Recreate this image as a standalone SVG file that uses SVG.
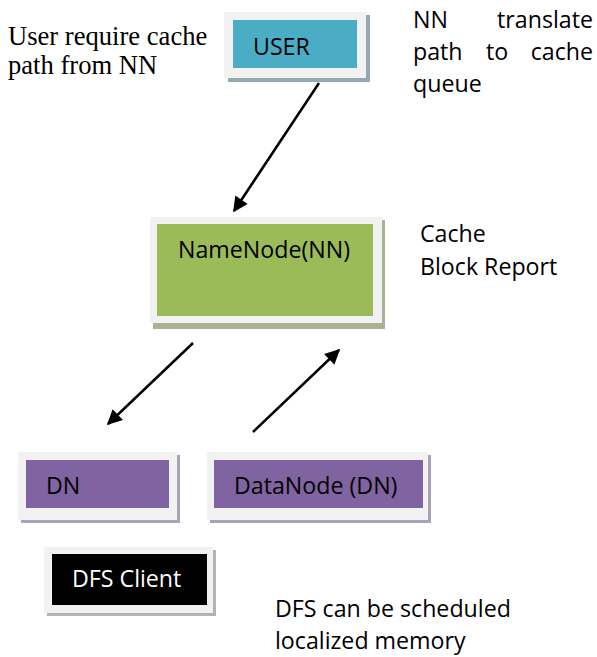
<svg xmlns="http://www.w3.org/2000/svg" width="597" height="657" viewBox="0 0 597 657">
<style>
.frame{fill:#f2f2f2}
.lbl{font-family:"Open Sans","Liberation Sans",sans-serif;font-size:23.2px;fill:#000}
.serif{font-family:"Liberation Serif","Times New Roman",serif;font-size:26.6px;fill:#000}
.conn{stroke:#000;stroke-width:2.5;fill:none;marker-end:url(#ah)}
</style>
<defs>
<marker id="ah" viewBox="0 0 10 10" refX="9" refY="5" markerWidth="6.5" markerHeight="6" orient="auto" markerUnits="strokeWidth">
<path d="M0,0 L10,5 L0,10 z" fill="#000"/>
</marker>
</defs>
<rect width="597" height="657" fill="#fff"/>

<g id="user">
<rect x="228" y="15" width="142" height="67" fill="#93aab3"/>
<rect class="frame" x="224" y="12" width="142" height="66"/>
<rect x="233" y="20" width="124" height="48" fill="#4bacc6"/>
<text class="lbl" x="253" y="55">USER</text>
</g>

<g id="namenode">
<rect x="153" y="220" width="232" height="109" fill="#a9b393"/>
<rect class="frame" x="150" y="217" width="232" height="106"/>
<rect x="157" y="224" width="216" height="92" fill="#9bbb59"/>
<text class="lbl" x="178" y="258">NameNode(NN)</text>
</g>

<g id="dn">
<rect x="21" y="455" width="159" height="68" fill="#aaa2b6"/>
<rect class="frame" x="18" y="452" width="159" height="68"/>
<rect x="26" y="460" width="143" height="48" fill="#8064a2"/>
<text class="lbl" x="46" y="494">DN</text>
</g>

<g id="datanode">
<rect x="210" y="455" width="221" height="68" fill="#aaa2b6"/>
<rect class="frame" x="207" y="452" width="221" height="68"/>
<rect x="214" y="460" width="209" height="48" fill="#8064a2"/>
<text class="lbl" x="234" y="494">DataNode (DN)</text>
</g>

<g id="dfsclient">
<rect x="47" y="550" width="169" height="66" fill="#b3b3b3"/>
<rect class="frame" x="44" y="547" width="169" height="66"/>
<rect x="52" y="554" width="155" height="51" fill="#000"/>
<text class="lbl" x="72" y="587" style="fill:#fff">DFS Client</text>
</g>

<g id="connectors">
<line class="conn" x1="319" y1="83" x2="234" y2="211"/>
<line class="conn" x1="193" y1="343" x2="108" y2="424"/>
<line class="conn" x1="253" y1="432" x2="339" y2="350"/>
</g>

<g id="notes">
<text class="serif" x="8" y="45">User require cache</text>
<text class="serif" x="8" y="74">path from NN</text>
<text class="lbl" x="413" y="28">NN</text>
<text class="lbl" x="593" y="28" text-anchor="end">translate</text>
<text class="lbl" x="413" y="60">path</text>
<text class="lbl" x="497" y="60" text-anchor="middle">to</text>
<text class="lbl" x="593" y="60" text-anchor="end">cache</text>
<text class="lbl" x="413" y="92">queue</text>
<text class="lbl" x="420" y="242">Cache</text>
<text class="lbl" x="420" y="275">Block Report</text>
<text class="lbl" x="275" y="617">DFS can be scheduled</text>
<text class="lbl" x="275" y="649">localized memory</text>
</g>
</svg>
